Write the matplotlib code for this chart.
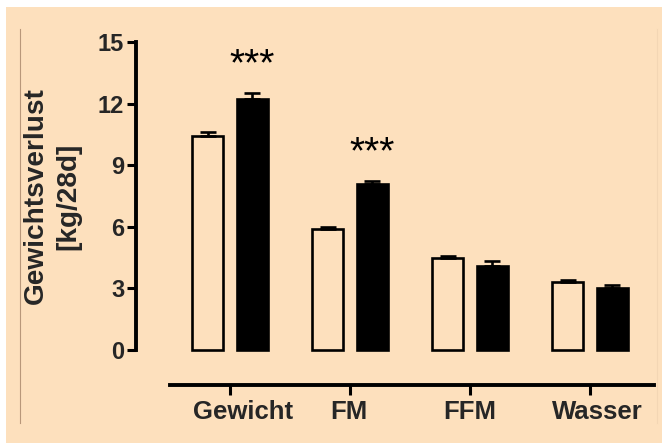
import numpy as np
import matplotlib.pyplot as plt
from matplotlib.patches import Rectangle
from matplotlib.transforms import ScaledTranslation

# values
categories = ["Gewicht", "FM", "FFM", "Wasser"]
open_means = [10.4, 5.9, 4.5, 3.3]
open_err = [0.2, 0.1, 0.1, 0.1]
filled_means = [12.2, 8.1, 4.1, 3.0]
filled_err = [0.3, 0.15, 0.25, 0.15]
stars = ["***", "***", "", ""]
yticks = [0, 3, 6, 9, 12, 15]

BG = "#fde0bd"
TXT = "#262626"

plt.rcParams["font.family"] = ["Liberation Sans", "DejaVu Sans"]

W, H = 662, 443
fig = plt.figure(figsize=(W / 100, H / 100), dpi=100, facecolor="white")

# peach panel with thin frame lines
fig.patches.append(Rectangle((6 / W, 0), 1 - 6 / W, 1 - 7 / H, transform=fig.transFigure,
                             facecolor=BG, edgecolor="none", zorder=-5))
fig.add_artist(plt.Line2D([20 / W, 20 / W], [1 - 423 / H, 1 - 29 / H], color="#b8977a", lw=0.8))
fig.add_artist(plt.Line2D([657 / W, 657 / W], [1 - 423 / H, 1 - 29 / H], color="#f3d6b4", lw=0.8))

ax = fig.add_axes([136 / W, (H - 385) / H, (654 - 136) / W, (385 - 30) / H])
ax.patch.set_visible(False)
ax.set_zorder(5)

x = np.arange(len(categories))
bw = 0.258
off = 0.185

ax.bar(x - off, open_means, bw, facecolor="none", edgecolor="black", linewidth=1.9, zorder=3)
ax.bar(x + off, filled_means, bw, facecolor="black", edgecolor="black", linewidth=1.9, zorder=3)
ax.errorbar(x - off, open_means, yerr=[np.zeros(len(x)), open_err], fmt="none",
            ecolor="black", elinewidth=1.9, capsize=6, capthick=1.9, zorder=2)
ax.errorbar(x + off, filled_means, yerr=[np.zeros(len(x)), filled_err], fmt="none",
            ecolor="black", elinewidth=1.9, capsize=6, capthick=1.9, zorder=2)

for xi, m, e, s in zip(x, filled_means, filled_err, stars):
    if s:
        ax.text(xi + off, m + e + 0.85, s, ha="center", va="baseline", fontsize=28, color="black")

ax.set_xlim(-0.783, 3.533)
ax.set_ylim(-1.705, 15.58)

for sp in ["top", "right"]:
    ax.spines[sp].set_visible(False)
ax.spines["left"].set_bounds(0, 15)
ax.spines["bottom"].set_bounds(-0.5, 3.533)
ax.spines["left"].set_linewidth(2.8)
ax.spines["bottom"].set_linewidth(2.8)

ax.set_yticks(yticks)
ax.set_yticklabels([str(v) for v in yticks])
ax.set_xticks(x)
ax.set_xticklabels(categories)
ax.tick_params(axis="y", length=6.5, width=2.2, pad=2, labelsize=17, labelcolor=TXT)
ax.tick_params(axis="x", length=7, width=2.2, pad=4, labelsize=18.5, labelcolor=TXT)
for lab in ax.get_xticklabels() + ax.get_yticklabels():
    lab.set_fontweight("bold")

# the category labels sit a bit right of their ticks in the original
shift_px = [13, -1, 0, 7]
for lab, dx in zip(ax.get_xticklabels(), shift_px):
    lab.set_transform(lab.get_transform() + ScaledTranslation(dx / 100, 0, fig.dpi_scale_trans))

fig.text(52 / W, 1 - 196 / H, "Gewichtsverlust\n[kg/28d]", rotation=90, ha="center", va="center",
         multialignment="center", fontsize=20.2, fontweight="bold", color=TXT, linespacing=1.3)

fig.savefig("out.png", dpi=100, facecolor="white")
